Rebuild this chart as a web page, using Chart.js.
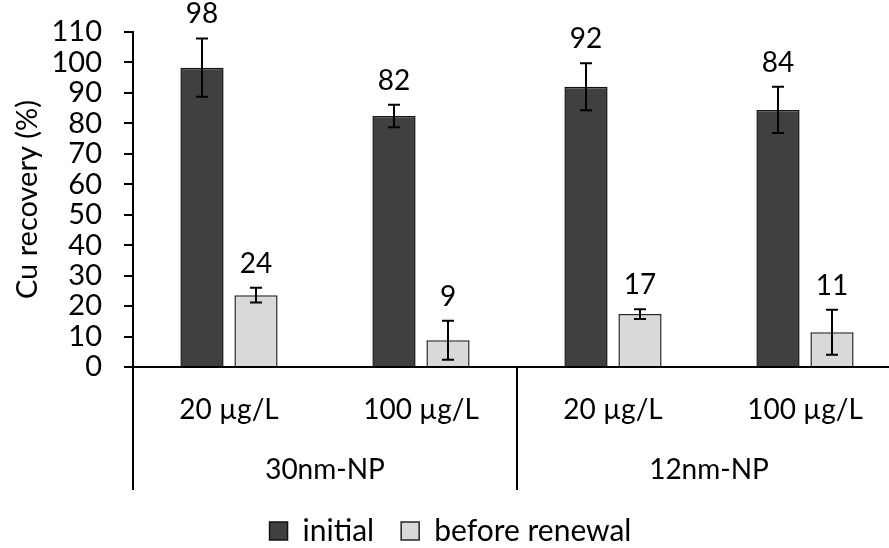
<!DOCTYPE html>
<html>
<head>
<meta charset="utf-8">
<script src="https://cdn.jsdelivr.net/npm/chart.js@4"></script>
<style>
  html, body { margin: 0; padding: 0; background: #fff; overflow: hidden; }
  #wrap { width: 905px; height: 556px; }
</style>
</head>
<body>
<div id="wrap"><canvas id="chart"></canvas></div>
<script>
// values
const concentrations = ['20 µg/L', '100 µg/L', '20 µg/L', '100 µg/L'];
const particles = ['30nm-NP', '12nm-NP'];
const initial = [98.3, 82.4, 92.0, 84.4];
const initialErr = [9.6, 3.7, 7.7, 7.6];
const beforeRenewal = [23.6, 8.8, 17.4, 11.4];
const beforeRenewalErr = [2.4, 6.4, 1.6, 7.4];

const FONT = 'Lato, "Open Sans", sans-serif';

// error bars + value labels on top of them
const errorBars = {
  id: 'errorBars',
  afterDatasetsDraw(chart) {
    const ctx = chart.ctx;
    const y = chart.scales.y;
    chart.data.datasets.forEach((ds, di) => {
      chart.getDatasetMeta(di).data.forEach((bar, i) => {
        const v = ds.data[i], e = ds.errors[i];
        const top = y.getPixelForValue(v + e);
        const bot = y.getPixelForValue(v - e);
        ctx.save();
        ctx.strokeStyle = '#000';
        ctx.lineWidth = 2;
        ctx.beginPath();
        ctx.moveTo(bar.x, top); ctx.lineTo(bar.x, bot);
        ctx.moveTo(bar.x - 6, top); ctx.lineTo(bar.x + 6, top);
        ctx.moveTo(bar.x - 6, bot); ctx.lineTo(bar.x + 6, bot);
        ctx.stroke();
        ctx.font = '28px ' + FONT;
        ctx.fillStyle = '#000';
        ctx.textAlign = 'center';
        ctx.textBaseline = 'middle';
        ctx.fillText(String(Math.round(v)), bar.x, top - 24);
        ctx.restore();
      });
    });
  }
};

new Chart(document.getElementById('chart'), {
  type: 'bar',
  data: {
    labels: concentrations,
    datasets: [
      { label: 'initial', data: initial, errors: initialErr,
        backgroundColor: '#404040', borderColor: '#111', borderWidth: 1.5,
        barPercentage: 0.8, categoryPercentage: 0.5625 },
      { label: 'before renewal', data: beforeRenewal, errors: beforeRenewalErr,
        backgroundColor: '#d9d9d9', borderColor: '#262626', borderWidth: 1.5,
        barPercentage: 0.8, categoryPercentage: 0.5625 }
    ]
  },
  options: {
    responsive: true,
    maintainAspectRatio: false,
    animation: false,
    layout: { padding: { top: 32, right: 4, left: 0, bottom: 0 } },
    plugins: {
      tooltip: { enabled: false },
      legend: {
        position: 'bottom',
        labels: { color: '#000', font: { family: FONT, size: 30 }, boxWidth: 18, boxHeight: 18, padding: 27 }
      }
    },
    scales: {
      y: {
        min: 0, max: 110,
        afterFit: s => { s.width = 133; s.paddingTop = 0; s.paddingBottom = 0; },
        ticks: { stepSize: 10, autoSkip: false, color: '#000', padding: 22, font: { family: FONT, size: 29 } },
        grid: { drawOnChartArea: false, tickLength: 9, color: '#000', lineWidth: 2 },
        border: { color: '#000', width: 2 },
        title: { display: true, text: 'Cu recovery (%)', color: '#000',
                 font: { family: FONT, size: 29 }, padding: { top: 10, bottom: 0 } }
      },
      x: {
        position: 'bottom',
        afterFit: s => { s.height = 60; },
        ticks: { color: '#000', padding: -34, font: { family: FONT, size: 28 } },
        grid: { drawOnChartArea: false, offset: true, tickLength: 60, lineWidth: 2,
                color: c => c.index % 2 === 0 ? '#000' : 'rgba(0,0,0,0)' },
        border: { color: '#000', width: 2 }
      },
      x2: {
        type: 'category',
        labels: particles,
        position: 'bottom',
        offset: true,
        afterFit: s => { s.height = 62; },
        ticks: { color: '#000', padding: -37, font: { family: FONT, size: 28 } },
        grid: { drawOnChartArea: false, offset: true, tickLength: 63, lineWidth: 2, color: '#000' },
        border: { display: false }
      }
    }
  },
  plugins: [errorBars]
});
</script>
</body>
</html>
